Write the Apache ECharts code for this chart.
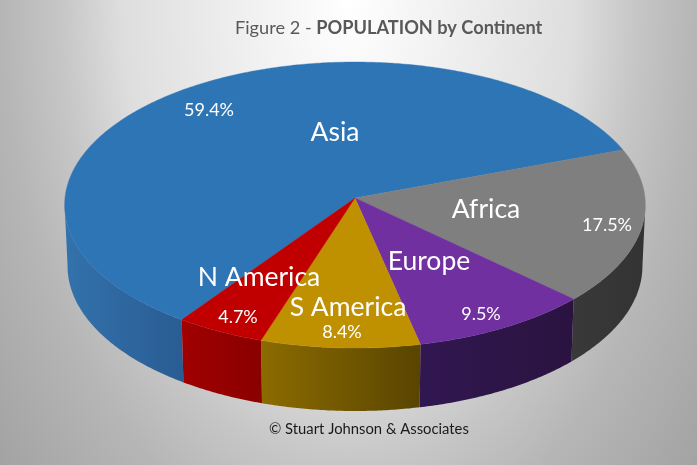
<!DOCTYPE html>
<html><head><meta charset="utf-8">
<style>html,body{margin:0;padding:0}#c{width:697px;height:465px}</style>
<script src="https://cdn.jsdelivr.net/npm/echarts@6/dist/echarts.min.js"></script>
</head><body><div id="c"></div>
<script>
const categories = ['Asia','Africa','Europe','S America','N America'];
const populationPct = [59.4,17.5,9.5,8.4,4.7];
const topColors = ['#2e75b6','#7f7f7f','#7030a0','#bf9000','#c00000'];
const wallLeft  = ['#3372ac','#393939','#311750','#8c6b00','#a00000'];
const wallRight = ['#295c92','#333333','#2a1340','#594500','#8a0000'];
const namePos = [[335,132],[486,209],[429,261],[348,307],[259,277]];
const pctPos  = [[209,110],[607,225],[481,314],[342,332],[238,317]];

const CX=355, CY=198, C=290, A=142.65, B=0.049, START=125;
const rad=d=>d*Math.PI/180;
function rim(deg){const v=Math.sin(rad(deg)),u=Math.cos(rad(deg)),w=1-B*v;return [CX+C*u/w,CY+A*v/w];}
function rimLow(deg){const p=rim(deg),v=Math.sin(rad(deg));return [CX+(p[0]-CX)*0.99,p[1]+61+2*v];}
function arc(f,a0,a1){const out=[],n=Math.max(2,Math.ceil(Math.abs(a1-a0)*2));for(let i=0;i<=n;i++)out.push(f(a0+(a1-a0)*i/n));return out;}
const total=populationPct.reduce((s,v)=>s+v,0);

function renderSlice(params,api){
  const i=params.dataIndex;
  let a0=START;
  for(let k=0;k<i;k++)a0+=populationPct[k]/total*360;
  const a1=a0+api.value(0)/total*360;
  const children=[];
  const lo=Math.asin(B)*180/Math.PI, hi=180-lo;
  [0,360].forEach(off=>{
    const s=Math.max(a0-off,lo), e=Math.min(a1-off,hi);
    if(e>s){
      const pts=arc(rim,s,e).concat(arc(rimLow,e,s));
      children.push({type:'polygon',shape:{points:pts},z2:1,style:{
        fill:{type:'linear',x:0,y:0,x2:1,y2:0,colorStops:[
          {offset:0,color:wallLeft[i]},{offset:1,color:wallRight[i]}]}}});
    }
  });
  children.push({type:'polygon',shape:{points:[[CX,CY]].concat(arc(rim,a0,a1))},z2:2,
    style:{fill:topColors[i],stroke:topColors[i],lineWidth:0.4}});
  children.push({type:'text',z2:10,style:{text:categories[i],x:namePos[i][0],y:namePos[i][1],
    fill:'#fff',font:'26.5px Lato',align:'center',verticalAlign:'middle'}});
  children.push({type:'text',z2:10,style:{text:api.value(0).toFixed(1)+'%',x:pctPos[i][0],y:pctPos[i][1],
    fill:'#fff',font:'18px Lato',align:'center',verticalAlign:'middle'}});
  return {type:'group',children};
}

const BG_SCALE=0.62;
const chart=echarts.init(document.getElementById('c'),null,{renderer:'canvas'});
chart.setOption({
  animation:false,
  backgroundColor:'#c4c4c4',
  graphic:[{type:'rect',silent:true,z:-10,x:0,y:0,scaleX:BG_SCALE,
    shape:{x:0,y:0,width:697/BG_SCALE,height:465},
    style:{fill:{type:'radial',x:0.5,y:0,r:1.6,colorStops:[
      {offset:0,color:'#ffffff'},{offset:0.49,color:'#dedede'},{offset:0.625,color:'#c6c6c6'},
      {offset:0.75,color:'#b6b6b6'},{offset:1,color:'#a1a1a1'}]}}}],
  title:[{
    text:'{a|Figure 2 - }{b|POPULATION by Continent}',left:230,top:14,
    textStyle:{fontWeight:'normal',rich:{a:{fontFamily:'Lato',fontSize:18.2,fontWeight:'normal',color:'#595959'},b:{fontFamily:'Lato',fontSize:18.2,fontWeight:'bold',color:'#595959'}}}
  },{
    text:'© Stuart Johnson & Associates',left:264,top:417,
    textStyle:{fontFamily:'Lato',fontSize:14.8,fontWeight:'normal',color:'#1a1a1a'}
  }],
  series:[{type:'custom',coordinateSystem:'none',silent:true,clip:false,
    renderItem:renderSlice,
    data:populationPct.map((v,i)=>({name:categories[i],value:[v]}))}]
});
</script></body></html>
